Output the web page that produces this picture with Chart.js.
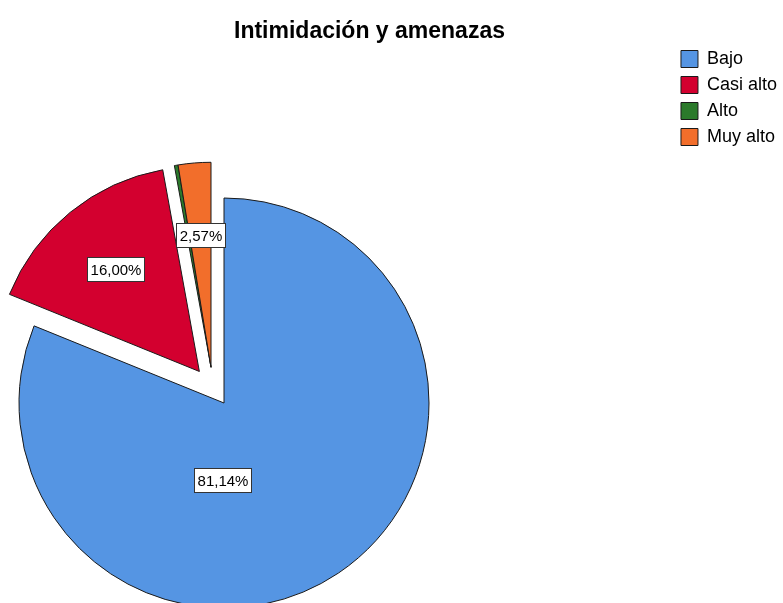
<!DOCTYPE html>
<html>
<head>
<meta charset="utf-8">
<script src="https://cdn.jsdelivr.net/npm/chart.js@4/dist/chart.umd.min.js"></script>
<style>
  html, body { margin: 0; padding: 0; background: #fff; overflow: hidden; }
  #wrap { width: 783px; height: 603px; position: relative; }
</style>
</head>
<body>
<div id="wrap"><canvas id="c" width="783" height="603"></canvas></div>
<script>
// ---- data ----
const chartTitle = 'Intimidación y amenazas';
const categories = ['Bajo', 'Casi alto', 'Alto', 'Muy alto'];
const percentages = [81.14, 16.00, 0.29, 2.57];

// ---- style ----
const colors = ['#5595E3', '#D3002F', '#2B7A2B', '#F26E2B'];
const FONT = '"Liberation Sans", Arial, sans-serif';
const PIE_CX = 224, PIE_CY = 403, PIE_R = 205;
// explode: distance (px) and compass direction (deg, 0 = up, clockwise)
const EXPLODE = [null, {dist: 40, angle: 322}, {dist: 38, angle: 340}, {dist: 38, angle: 340}];
// label placement override (compass deg, fraction of radius); null = along slice mid-angle
const LABEL_AT = [{angle: 181, r: 0.375}, null, null, null];
const LABEL_R = 0.645;
const MIN_LABEL_PCT = 1;

function compassVec(deg) {
  const a = deg * Math.PI / 180;
  return {x: Math.sin(a), y: -Math.cos(a)};
}
function explodeShift(i) {
  const e = EXPLODE[i];
  if (!e) return {x: 0, y: 0};
  const v = compassVec(e.angle);
  return {x: v.x * e.dist, y: v.y * e.dist};
}

const placePie = {
  id: 'placePie',
  afterLayout(chart) {
    const a = chart.chartArea;
    a.left = PIE_CX - PIE_R; a.right = PIE_CX + PIE_R;
    a.top = PIE_CY - PIE_R; a.bottom = PIE_CY + PIE_R;
    a.width = 2 * PIE_R; a.height = 2 * PIE_R;
  }
};

const explodedDraw = {
  id: 'explodedDraw',
  beforeDatasetDraw(chart, args) {
    const ctx = chart.ctx;
    args.meta.data.forEach((arc, i) => {
      const s = explodeShift(i);
      ctx.save();
      ctx.translate(s.x, s.y);
      arc.draw(ctx, chart.chartArea);
      ctx.restore();
    });
    return false;
  }
};

const pctLabels = {
  id: 'pctLabels',
  afterDatasetsDraw(chart) {
    const ctx = chart.ctx;
    const meta = chart.getDatasetMeta(0);
    const data = chart.data.datasets[0].data;
    const total = data.reduce((a, b) => a + b, 0);
    ctx.save();
    ctx.font = '15px ' + FONT;
    ctx.textAlign = 'center';
    ctx.textBaseline = 'middle';
    meta.data.forEach((arc, i) => {
      const pct = data[i] / total * 100;
      if (pct < MIN_LABEL_PCT) return;
      const s = explodeShift(i);
      const R = arc.outerRadius;
      let px, py;
      if (LABEL_AT[i]) {
        const v = compassVec(LABEL_AT[i].angle);
        px = arc.x + s.x + v.x * LABEL_AT[i].r * R;
        py = arc.y + s.y + v.y * LABEL_AT[i].r * R;
      } else {
        const mid = (arc.startAngle + arc.endAngle) / 2;
        px = arc.x + s.x + Math.cos(mid) * LABEL_R * R;
        py = arc.y + s.y + Math.sin(mid) * LABEL_R * R;
      }
      const txt = pct.toFixed(2).replace('.', ',') + '%';
      const w = Math.round(ctx.measureText(txt).width + 6);
      const h = 24;
      const bx = Math.round(px - w / 2) + 0.5, by = Math.round(py - h / 2) + 0.5;
      ctx.fillStyle = '#ffffff';
      ctx.fillRect(bx, by, w, h);
      ctx.strokeStyle = '#333333';
      ctx.lineWidth = 1;
      ctx.strokeRect(bx, by, w, h);
      ctx.fillStyle = '#000000';
      ctx.fillText(txt, bx + w / 2, by + h / 2 + 1);
    });
    ctx.restore();
  }
};

new Chart(document.getElementById('c'), {
  type: 'pie',
  data: {
    labels: categories,
    datasets: [{
      data: percentages,
      backgroundColor: colors,
      borderColor: '#1a1a1a',
      borderWidth: 1,
      radius: PIE_R
    }]
  },
  options: {
    responsive: false,
    devicePixelRatio: 1,
    animation: false,
    events: [],
    layout: { padding: { left: -48, right: -4, top: 0, bottom: 0 } },
    plugins: {
      title: {
        display: true,
        text: chartTitle,
        color: '#000',
        font: { family: FONT, size: 23, weight: 'bold', lineHeight: 1 },
        padding: { top: 20, bottom: -1 }
      },
      legend: {
        position: 'right',
        align: 'start',
        fullSize: false,
        labels: {
          color: '#000',
          font: { family: FONT, size: 18 },
          boxWidth: 17,
          boxHeight: 17,
          padding: 8
        }
      },
      tooltip: { enabled: false }
    }
  },
  plugins: [placePie, explodedDraw, pctLabels]
});
</script>
</body>
</html>
